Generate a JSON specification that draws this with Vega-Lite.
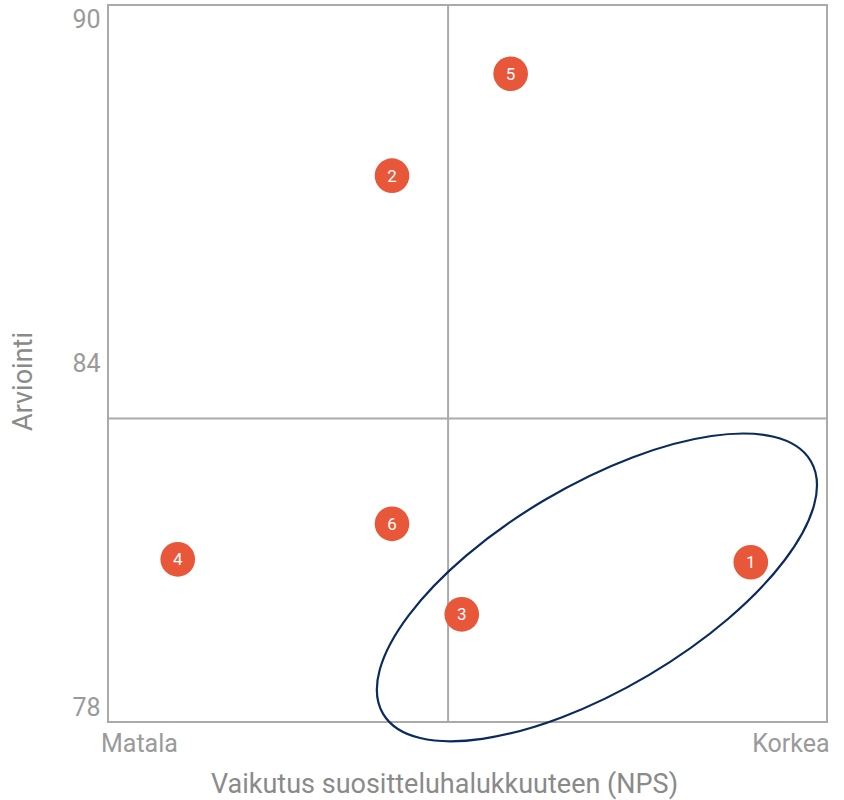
{
  "$schema": "https://vega.github.io/schema/vega-lite/v6.json",
  "width": 719,
  "height": 717,
  "autosize": "none",
  "padding": {"left": 108, "top": 5, "right": 17, "bottom": 78},
  "background": "white",
  "config": {
    "view": {"stroke": "#aaaaaa", "strokeWidth": 2},
    "font": "Roboto"
  },
  "datasets": {
    "points": [
      {"id": "1", "nps": 89.4, "arviointi": 80.53},
      {"id": "2", "nps": 39.5, "arviointi": 87.28},
      {"id": "3", "nps": 49.2, "arviointi": 79.62},
      {"id": "4", "nps": 9.7, "arviointi": 80.58},
      {"id": "5", "nps": 56.0, "arviointi": 89.06},
      {"id": "6", "nps": 39.5, "arviointi": 81.2}
    ],
    "vline": [{"nps": 47.3}],
    "hline": [{"arviointi": 83.04}],
    "ellipse": [{"nps": 68.0, "arviointi": 80.09}]
  },
  "layer": [
    {
      "data": {"name": "vline"},
      "mark": {"type": "rule", "color": "#aaaaaa", "strokeWidth": 2},
      "encoding": {
        "x": {"field": "nps", "type": "quantitative", "scale": {"domain": [0, 100], "nice": false, "zero": false},
          "axis": {
            "values": [4.3, 94.9],
            "labelExpr": "datum.value < 50 ? 'Matala' : 'Korkea'",
            "title": "Vaikutus suositteluhalukkuuteen (NPS)",
            "grid": false, "ticks": false, "domain": false,
            "labelFontSize": 25, "labelColor": "#9a9a9a", "labelPadding": 9, "labelFlush": false,
            "titleFontSize": 27, "titleFontWeight": "normal", "titleColor": "#8a8a8a",
            "titleX": 336, "titleY": 70, "titleBaseline": "alphabetic"
          }
        }
      }
    },
    {
      "data": {"name": "hline"},
      "mark": {"type": "rule", "color": "#aaaaaa", "strokeWidth": 2},
      "encoding": {
        "y": {"field": "arviointi", "type": "quantitative", "scale": {"domain": [77.74, 90.26], "nice": false, "zero": false},
          "axis": {
            "values": [78, 84, 90],
            "format": "d",
            "title": "Arviointi",
            "grid": false, "ticks": false, "domain": false,
            "labelFontSize": 25, "labelColor": "#9a9a9a", "labelPadding": 8,
            "titleFontSize": 27, "titleFontWeight": "normal", "titleColor": "#8a8a8a",
            "titleX": -71, "titleY": 376
          }
        }
      }
    },
    {
      "data": {"name": "ellipse"},
      "mark": {
        "type": "point",
        "shape": "M -1 0 C -1 -0.2264 -0.5523 -0.41 0 -0.41 C 0.5523 -0.41 1 -0.2264 1 0 C 1 0.2264 0.5523 0.41 0 0.41 C -0.5523 0.41 -1 0.2264 -1 0 Z",
        "size": 246810,
        "angle": 329.4,
        "filled": false,
        "stroke": "#0b2b5e",
        "strokeWidth": 2.2,
        "opacity": 1,
        "clip": false
      },
      "encoding": {
        "x": {"field": "nps", "type": "quantitative"},
        "y": {"field": "arviointi", "type": "quantitative"}
      }
    },
    {
      "data": {"name": "points"},
      "mark": {"type": "circle", "size": 1200, "color": "#e8573a", "opacity": 1},
      "encoding": {
        "x": {"field": "nps", "type": "quantitative"},
        "y": {"field": "arviointi", "type": "quantitative"}
      }
    },
    {
      "data": {"name": "points"},
      "mark": {"type": "text", "color": "white", "fontSize": 17, "baseline": "middle", "align": "center", "dy": 1},
      "encoding": {
        "x": {"field": "nps", "type": "quantitative"},
        "y": {"field": "arviointi", "type": "quantitative"},
        "text": {"field": "id"}
      }
    }
  ]
}
